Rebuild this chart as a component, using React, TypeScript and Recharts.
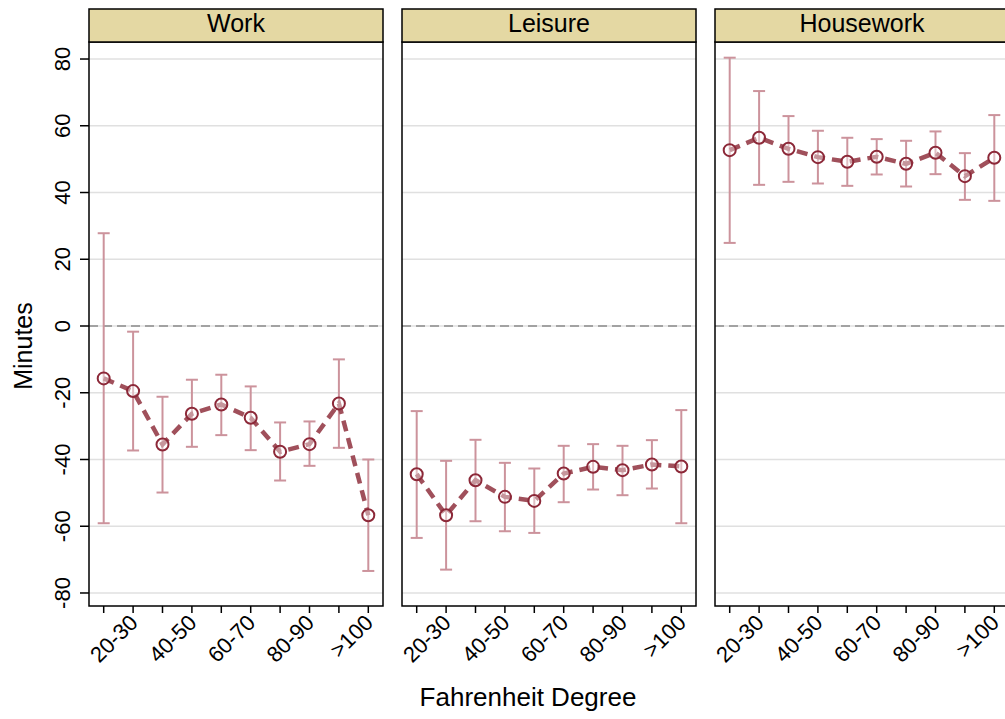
import React from "react";

//recharts
import {
  LineChart,
  Line,
  XAxis,
  YAxis,
  CartesianGrid,
  ReferenceLine,
  ErrorBar,
} from "recharts";

//data
const temps = ["<20", "20-30", "30-40", "40-50", "50-60", "60-70", "70-80", "80-90", "90-100", ">100"];
const panels = ["Work", "Leisure", "Housework"];
const yTicks = [-80, -60, -40, -20, 0, 20, 40, 60, 80];

const workMean = [-15.7, -19.5, -35.5, -26.3, -23.5, -27.5, -37.7, -35.4, -23.2, -56.7];
const workLow = [-59.1, -37.3, -49.9, -36.2, -32.7, -37.2, -46.3, -41.9, -36.5, -73.4];
const workHigh = [27.8, -1.7, -21.2, -16.1, -14.6, -18.1, -28.9, -28.6, -10.0, -40.0];

const leisureMean = [-44.4, -56.7, -46.2, -51.2, -52.4, -44.2, -42.2, -43.2, -41.5, -42.1];
const leisureLow = [-63.5, -73.0, -58.5, -61.5, -62.0, -52.8, -49.0, -50.7, -48.7, -59.1];
const leisureHigh = [-25.5, -40.4, -34.1, -41.0, -42.7, -35.9, -35.4, -35.9, -34.2, -25.2];

const houseMean = [52.7, 56.4, 53.1, 50.6, 49.2, 50.7, 48.6, 51.9, 44.9, 50.4];
const houseLow = [24.9, 42.3, 43.2, 42.7, 42.0, 45.4, 41.8, 45.5, 37.8, 37.5];
const houseHigh = [80.4, 70.4, 62.9, 58.5, 56.4, 56.0, 55.5, 58.3, 51.8, 63.2];

const build = (mean: number[], low: number[], high: number[]) =>
  mean.map((v, k) => ({ i: k + 1, v, err: [v - low[k], high[k] - v] }));

const series = [
  build(workMean, workLow, workHigh),
  build(leisureMean, leisureLow, leisureHigh),
  build(houseMean, houseLow, houseHigh),
];

//layout
const FONT = "'Liberation Sans', Arial, Helvetica, sans-serif";
const plotLefts = [89, 402, 715];
const plotW = 294;
const plotTop = 42;
const plotBottom = 606;
const H = 719;

const XTick = (props: any) => {
  const { x, y, payload } = props;
  const idx = Math.round(payload.value) - 1;
  if (idx % 2 === 0) return <g />;
  const lx = x + 6;
  const ly = y + 9;
  return (
    <text
      x={lx}
      y={ly}
      transform={`rotate(-45, ${lx}, ${ly})`}
      textAnchor="end"
      fontSize={22}
      fontFamily={FONT}
      fill="#000"
    >
      {temps[idx]}
    </text>
  );
};

const YTick = (props: any) => {
  const { x, y, payload } = props;
  const lx = x - 8;
  return (
    <text
      x={lx}
      y={y}
      transform={`rotate(-90, ${lx}, ${y})`}
      textAnchor="middle"
      fontSize={22}
      fontFamily={FONT}
      fill="#000"
    >
      {payload.value}
    </text>
  );
};

const Dot = (p: any) => (
  <circle
    key={`d-${p.index}`}
    cx={p.cx}
    cy={p.cy}
    r={6}
    fill="rgba(255,255,255,0.4)"
    stroke="#8c2838"
    strokeWidth={2}
  />
);

const Panel = ({ k }: { k: number }) => {
  const first = k === 0;
  const mLeft = first ? 0 : 7;
  const yW = first ? 89 : 0;
  const width = first ? 390 : 308;
  const left = plotLefts[k] - mLeft - yW;
  return (
    <div style={{ position: "absolute", left, top: 0 }}>
      <LineChart
        width={width}
        height={H}
        data={series[k]}
        margin={{ top: plotTop, right: 7, left: mLeft, bottom: 0 }}
      >
        <CartesianGrid
          vertical={false}
          horizontalValues={yTicks}
          stroke="#e0e0e0"
          strokeWidth={1.5}
        />
        <XAxis
          dataKey="i"
          type="number"
          domain={[0.5, 10.5]}
          ticks={[1, 2, 3, 4, 5, 6, 7, 8, 9, 10]}
          interval={0}
          height={H - plotBottom}
          axisLine={false}
          tickLine={{ stroke: "#000", strokeWidth: 1.5 }}
          tickSize={7}
          tickMargin={2}
          tick={<XTick />}
        />
        <YAxis
          type="number"
          domain={[-83.9, 85.1]}
          ticks={yTicks}
          allowDataOverflow
          hide={!first}
          width={yW}
          axisLine={false}
          tickLine={{ stroke: "#000", strokeWidth: 1.5 }}
          tickSize={9}
          tickMargin={2}
          tick={<YTick />}
        />
        <ReferenceLine y={0} stroke="#8a8a8a" strokeWidth={1.5} strokeDasharray="9 5" />
        <Line
          dataKey="v"
          stroke="#a0505b"
          strokeWidth={4.5}
          strokeDasharray="11 7"
          dot={Dot}
          activeDot={false}
          isAnimationActive={false}
        >
          <ErrorBar
            dataKey="err"
            direction="y"
            width={6}
            stroke="#cc939c"
            strokeWidth={2}
            isAnimationActive={false}
          />
        </Line>
      </LineChart>
    </div>
  );
};

const App = () => {
  return (
    <div
      style={{
        position: "absolute",
        left: 0,
        top: 0,
        width: 1005,
        height: H,
        overflow: "hidden",
        background: "#fff",
        fontFamily: FONT,
      }}
    >
      {panels.map((_, k) => (
        <Panel key={k} k={k} />
      ))}
      <svg
        width={1005}
        height={H}
        style={{ position: "absolute", left: 0, top: 0, pointerEvents: "none" }}
      >
        {panels.map((name, k) => (
          <g key={name}>
            <rect
              x={plotLefts[k]}
              y={plotTop}
              width={plotW}
              height={plotBottom - plotTop}
              fill="none"
              stroke="#000"
              strokeWidth={1.5}
            />
            <rect
              x={plotLefts[k]}
              y={9}
              width={plotW}
              height={plotTop - 9}
              fill="#e4d8a3"
              stroke="#000"
              strokeWidth={1.5}
            />
            <text
              x={plotLefts[k] + plotW / 2}
              y={32}
              textAnchor="middle"
              fontSize={25}
              fontFamily={FONT}
              fill="#000"
            >
              {name}
            </text>
          </g>
        ))}
        <text
          x={32}
          y={346}
          transform="rotate(-90, 32, 346)"
          textAnchor="middle"
          fontSize={25}
          fontFamily={FONT}
          fill="#000"
        >
          Minutes
        </text>
        <text x={528} y={706} textAnchor="middle" fontSize={26} fontFamily={FONT} fill="#000">
          Fahrenheit Degree
        </text>
      </svg>
    </div>
  );
};

export default App;
